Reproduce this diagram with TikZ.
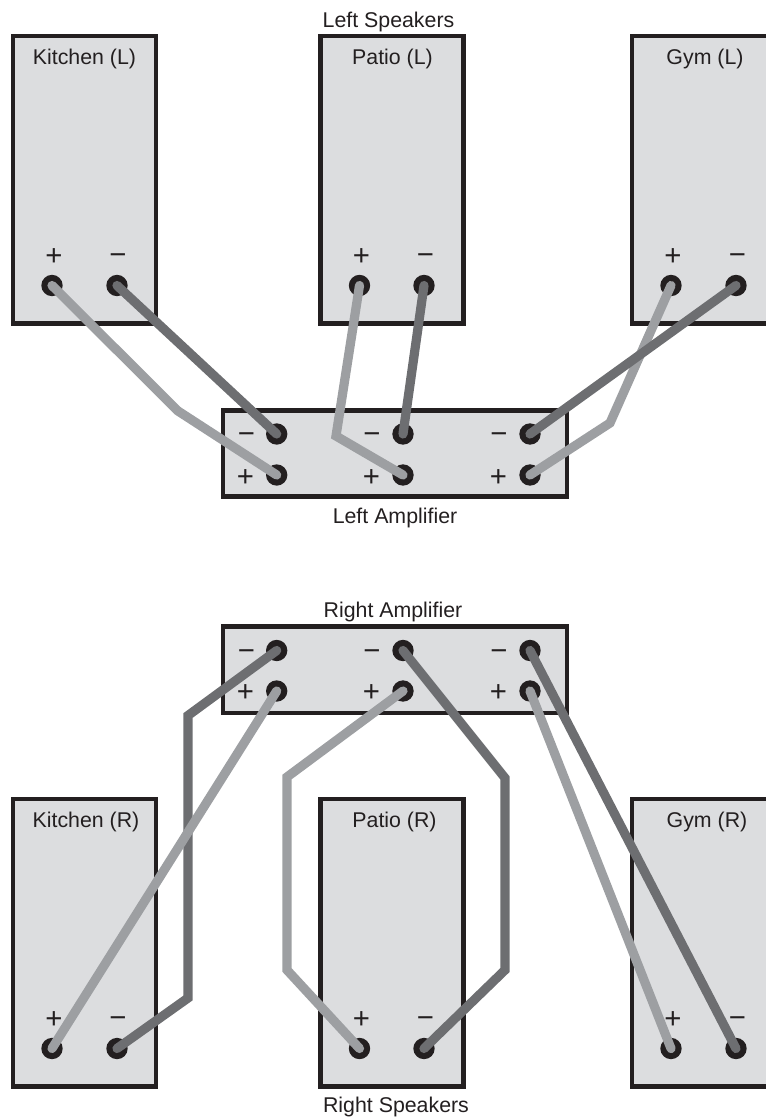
\documentclass[tikz,border=0pt]{standalone}
\usepackage{fontspec}
\setmainfont{Liberation Sans}
\definecolor{boxfill}{HTML}{DCDDDF}
\definecolor{ink}{HTML}{231F20}
\definecolor{wirelight}{HTML}{9D9FA2}
\definecolor{wiredark}{HTML}{6D6E71}
\tikzset{
  x=0.75pt,y=-0.75pt,
  unit/.style={draw=ink,line width=3.5pt,fill=boxfill,rectangle,inner sep=0pt,outer sep=0pt,anchor=north west},
  term/.style={circle,fill=ink,minimum size=16pt,inner sep=0pt},
  lab/.style={font=\fontsize{16pt}{18pt}\selectfont,text=ink,inner sep=0pt},
  signp/.style={font=\fontsize{22pt}{24pt}\selectfont,text=ink,inner sep=0pt,yshift=-1.5pt},
  signm/.style={signp,yshift=-1.5pt},
  lwire/.style={draw=wirelight,line width=6.9pt,line cap=round,line join=miter},
  dwire/.style={draw=wiredark,line width=6.9pt,line cap=round,line join=miter}
}
\newcommand{\spk}[5]{\node[unit,minimum width=107.25pt,minimum height=215.6pt] (#1) at (#2,#3) {};\node[lab] (#1t) at (#2+#5,#3+23) {#4};}
\begin{document}
\begin{tikzpicture}
\useasboundingbox (0,0) rectangle (766,1117);
\begin{scope}
\clip (0,0) rectangle (766,1117);
% speakers
\spk{kl}{13}{36}{Kitchen (L)}{71.5}
\spk{pl}{320.5}{36}{Patio (L)}{72}
\spk{gl}{632}{36}{Gym (L)}{73}
\spk{kr}{13}{799}{Kitchen (R)}{73}
\spk{pr}{320.5}{799}{Patio (R)}{74}
\spk{gr}{632}{799}{Gym (R)}{75}
% amplifiers
\node[unit,minimum width=258pt,minimum height=64.7pt] (al) at (223,410.5) {};
\node[unit,minimum width=258pt,minimum height=64.7pt] (ar) at (223,626.7) {};
% terminals
\foreach \n/\x/\y in {
  klp/52/285.5,klm/117/285.5,plp/359.5/285.5,plm/424/285.5,glp/671/285.5,glm/736/285.5,
  alm1/276.7/434,alp1/276.7/475,alm2/403/434,alp2/403/475,alm3/530/434,alp3/530/475,
  arm1/276.7/650.5,arp1/276.7/691,arm2/403/650.5,arp2/403/691,arm3/530/650.5,arp3/530/691,
  krp/52/1048.5,krm/117/1048.5,prp/359.5/1048.5,prm/424/1048.5,grp/671/1048.5,grm/736/1048.5}
  {\node[term] (\n) at (\x,\y) {};}
% signs
\foreach \n/\x/\y in {sa/54/255,sc/361.5/255,se/673/255,
  sh/245.5/476,sj/371.5/476,sl/498.5/476,
  sn/245.5/691.5,sp/371.5/691.5,sr/498.5/691.5,
  ss/54/1018,su/361.5/1018,sw/673/1018}
  {\node[signp] (\n) at (\x,\y) {+};}
\foreach \n/\x/\y in {sb/118/255,sd/425.5/255,sf/737.5/255,
  sg/246.5/434,si/372/434,sk/499/434,
  sm/246.5/651,so/372/651,sq/499/651,
  st/118/1018,sv/425.5/1018,sx/737.5/1018}
  {\node[signm] (\n) at (\x,\y) {−};}
% bends
\coordinate (b1) at (178,411);
\coordinate (b2) at (336,436);
\coordinate (b3) at (610,423);
\coordinate (b4a) at (188,715.5);
\coordinate (b4b) at (188,998);
\coordinate (b5a) at (287,777);
\coordinate (b5b) at (287,970);
\coordinate (b6a) at (505,778);
\coordinate (b6b) at (505,970);
% wires
\draw[lwire] (klp.center) -- (b1) -- (alp1.center);
\draw[dwire] (klm.center) -- (alm1.center);
\draw[lwire] (plp.center) -- (b2) -- (alp2.center);
\draw[dwire] (plm.center) -- (alm2.center);
\draw[lwire] (glp.center) -- (b3) -- (alp3.center);
\draw[dwire] (glm.center) -- (alm3.center);
\draw[dwire] (krm.center) -- (b4b) -- (b4a) -- (arm1.center);
\draw[lwire] (krp.center) -- (arp1.center);
\draw[lwire] (prp.center) -- (b5b) -- (b5a) -- (arp2.center);
\draw[dwire] (prm.center) -- (b6b) -- (b6a) -- (arm2.center);
\draw[lwire] (grp.center) -- (arp3.center);
\draw[dwire] (grm.center) -- (arm3.center);
\end{scope}
% captions
\node[lab] (c1) at (388.5,22) {Left Speakers};
\node[lab] (c2) at (395,517.5) {Left Amplifier};
\node[lab] (c3) at (393,612) {Right Amplifier};
\node[lab] (c4) at (396,1106.5) {Right Speakers};
\end{tikzpicture}
\end{document}
